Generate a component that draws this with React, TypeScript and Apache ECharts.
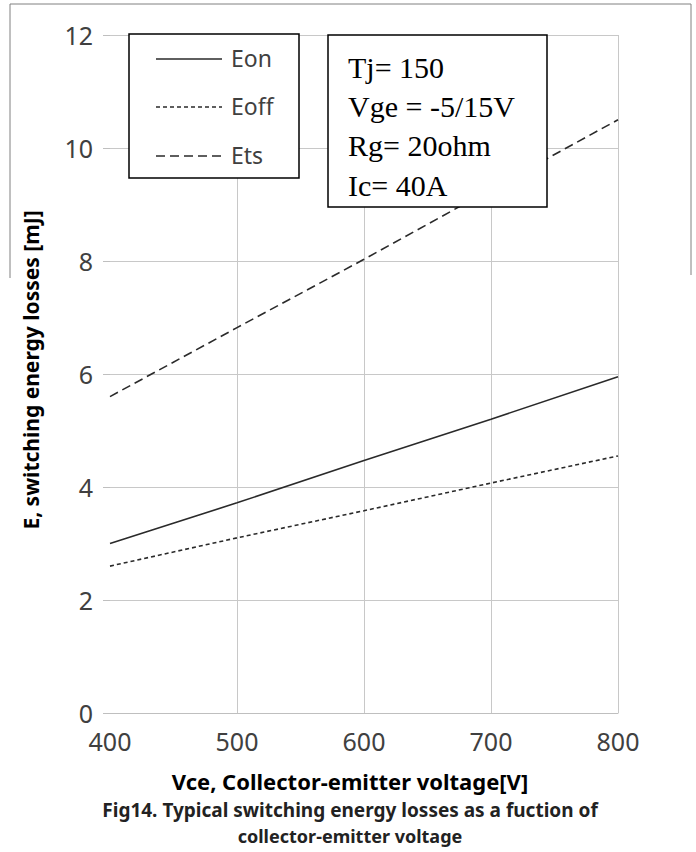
import React, { useEffect, useRef } from "react";
import * as echarts from "echarts";

const voltages = [400, 500, 600, 700, 800];
const eon = [3.0, 3.72, 4.47, 5.2, 5.95];
const eoff = [2.6, 3.1, 3.58, 4.07, 4.55];
const ets = [5.6, 6.82, 8.03, 9.27, 10.5];
const seriesNames = ["Eon", "Eoff", "Ets"];
const conditions = ["Tj= 150", "Vge = -5/15V", "Rg= 20ohm", "Ic= 40A"];

const LINE_COLOR = "#2a2a2a";
const dashes: any[] = ["solid", [4, 3], [9, 5]];

export default function App() {
  const ref = useRef<HTMLDivElement>(null);
  useEffect(() => {
    if (!ref.current) return;
    const chart = echarts.init(ref.current, undefined, { renderer: "svg" });
    const datasets = [eon, eoff, ets];
    const series = datasets.map((d, i) => ({
      name: seriesNames[i],
      type: "line",
      data: voltages.map((v, j) => [v, d[j]]),
      symbol: "none",
      lineStyle: { color: LINE_COLOR, width: 1.6, type: dashes[i] },
      z: 3,
    }));

    const TOP = 100;
    const legendY = [58, 106, 155];
    const els: any[] = [
      {
        type: "polyline",
        shape: { points: [[10, 278], [10, 4], [691, 4], [691, 275]] },
        style: { stroke: "#808080", lineWidth: 1, fill: null },
        z: 1,
      },
      {
        type: "rect",
        shape: { x: 129, y: 34, width: 170, height: 144 },
        style: { fill: "#fff", stroke: "#000", lineWidth: 1.5 },
        z: TOP,
      },
    ];
    seriesNames.forEach((n, i) => {
      els.push({
        type: "line",
        shape: { x1: 156, y1: legendY[i] + 1, x2: 222, y2: legendY[i] + 1 },
        style: {
          stroke: LINE_COLOR,
          lineWidth: 1.4,
          lineDash: i === 0 ? null : dashes[i],
        },
        z: TOP + 1,
      });
      els.push({
        type: "text",
        x: 231,
        y: legendY[i],
        style: {
          text: n,
          fill: "#404040",
          font: '23px "Noto Sans"',
          textVerticalAlign: "middle",
        },
        z: TOP + 1,
      });
    });

    const condY = [67, 106, 145, 185];
    els.push({
      type: "rect",
      shape: { x: 328, y: 35, width: 219, height: 172 },
      style: { fill: "#fff", stroke: "#000", lineWidth: 1.5 },
      z: TOP,
    });
    conditions.forEach((t, i) =>
      els.push({
        type: "text",
        x: 348,
        y: condY[i],
        style: {
          text: t,
          fill: "#000",
          font: '30px "Liberation Serif"',
          textVerticalAlign: "middle",
        },
        z: TOP + 1,
      })
    );

    els.push(
      {
        type: "text",
        x: 31,
        y: 370,
        rotation: Math.PI / 2,
        style: {
          text: "E, switching energy losses [mJ]",
          fill: "#000",
          font: 'bold 21px "Noto Sans"',
          textAlign: "center",
          textVerticalAlign: "middle",
        },
        z: TOP,
      },
      {
        type: "text",
        x: 350,
        y: 781,
        style: {
          text: "Vce, Collector-emitter voltage[V]",
          fill: "#000",
          font: 'bold 22px "Noto Sans"',
          textAlign: "center",
          textVerticalAlign: "middle",
        },
        z: TOP,
      },
      {
        type: "text",
        x: 350,
        y: 810,
        style: {
          text: "Fig14. Typical switching energy losses as a fuction of",
          fill: "#222",
          font: 'bold 19px "Noto Sans"',
          textAlign: "center",
          textVerticalAlign: "middle",
        },
        z: TOP,
      },
      {
        type: "text",
        x: 350,
        y: 836,
        style: {
          text: "collector-emitter voltage",
          fill: "#222",
          font: 'bold 18px "Noto Sans"',
          textAlign: "center",
          textVerticalAlign: "middle",
        },
        z: TOP,
      }
    );

    chart.setOption({
      animation: false,
      backgroundColor: "#fff",
      grid: { left: 110, right: 78, top: 35, bottom: 139, containLabel: false },
      xAxis: {
        type: "value",
        min: 400,
        max: 800,
        interval: 100,
        axisLine: { show: true, lineStyle: { color: "#bfbfbf", width: 1 } },
        axisTick: { show: false },
        splitLine: { show: true, showMinLine: false, lineStyle: { color: "#c8c8c8", width: 1 } },
        axisLabel: {
          color: "#404040",
          fontSize: 25,
          fontFamily: "Noto Sans",
          margin: 15,
        },
      },
      yAxis: {
        type: "value",
        min: 0,
        max: 12,
        interval: 2,
        axisLine: { show: false },
        axisTick: { show: true, length: 7, lineStyle: { color: "#bfbfbf" } },
        splitLine: { show: true, lineStyle: { color: "#c8c8c8", width: 1 } },
        axisLabel: {
          color: "#404040",
          fontSize: 25,
          fontFamily: "Noto Sans",
          margin: 17,
        },
      },
      series,
      graphic: { elements: els },
    });
    return () => chart.dispose();
  }, []);
  return (
    <div
      ref={ref}
      style={{ position: "fixed", left: 0, top: 0, width: 696, height: 852 }}
    />
  );
}
